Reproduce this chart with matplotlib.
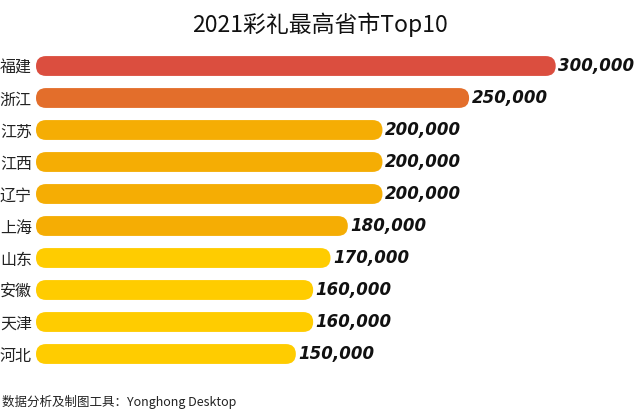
import matplotlib
matplotlib.use("Agg")
import matplotlib.pyplot as plt
from matplotlib.patches import FancyBboxPatch

plt.rcParams['font.family'] = ['Noto Sans CJK SC', 'DejaVu Sans']

provinces = ['福建', '浙江', '江苏', '江西', '辽宁', '上海', '山东', '安徽', '天津', '河北']
values = [300000, 250000, 200000, 200000, 200000, 180000, 170000, 160000, 160000, 150000]
colors = ['#DB4E3F', '#E36E2B', '#F5AD04', '#F5AD04', '#F5AD04', '#F5AD04',
          '#FFCC00', '#FFCC00', '#FFCC00', '#FFCC00']
title = '2021彩礼最高省市Top10'
footer = '数据分析及制图工具：Yonghong Desktop'

W, H = 640, 413
fig = plt.figure(figsize=(W / 100, H / 100), dpi=100)
ax = fig.add_axes([36 / W, 1 - 370 / H, 589 / W, 320 / H])
xmax = 340000
ax.set_xlim(0, xmax)
ax.set_ylim(len(values) - 0.5, -0.5)

bar_h = 0.62
px_per_x = 589 / xmax
px_per_y = 320 / len(values)
rad_x = (bar_h / 2) * px_per_y / px_per_x

bars = ax.barh(range(len(values)), values, height=bar_h, color='none')
for rect, c, v in zip(bars, colors, values):
    x0, y0 = rect.get_x(), rect.get_y()
    w, h = rect.get_width(), rect.get_height()
    p = FancyBboxPatch((x0, y0), w, h,
                       boxstyle=f"round,pad=0,rounding_size={rad_x}",
                       facecolor=c, edgecolor='none')
    p.set_mutation_aspect((bar_h / 2) / rad_x)
    ax.add_patch(p)
    ax.text(v + 1500, y0 + h / 2, f'{v:,}', va='center', ha='left',
            fontsize=12, fontweight='bold', fontstyle='italic',
            family='DejaVu Sans', color='#111111')

ax.set_yticks(range(len(provinces)))
ax.set_yticklabels(provinces, fontsize=11.5, color='#222222')
ax.tick_params(axis='y', length=0, pad=3)
ax.set_xticks([])
for s in ax.spines.values():
    s.set_visible(False)

fig.text(0.5, 1 - 25 / H, title, ha='center', va='center', fontsize=16.5, color='#111111')
fig.text(2 / W, 1 - 402 / H, footer, ha='left', va='center', fontsize=9, color='#222222')

fig.savefig('out.png', dpi=100)
